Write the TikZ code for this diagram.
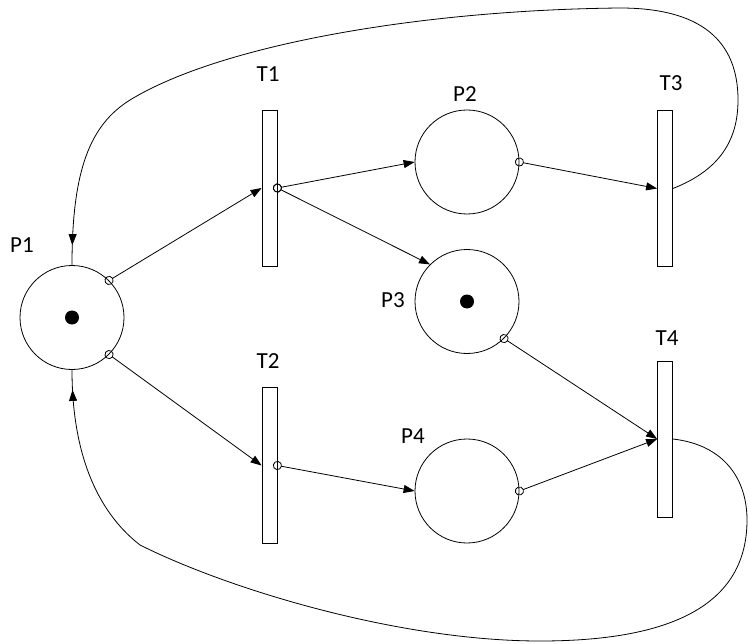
\documentclass[tikz,border=0pt]{standalone}
\usepackage{fontspec}
\setmainfont{Carlito}
\usetikzlibrary{arrows.meta, positioning, calc, decorations.markings}

\begin{document}
\begin{tikzpicture}[x=1pt, y=-1pt, line width=0.8pt,
    place/.style={circle, draw, minimum size=104pt, inner sep=0pt},
    trans/.style={rectangle, draw, minimum width=15pt, minimum height=156pt, inner sep=0pt},
    lab/.style={font=\fontsize{23}{26}\selectfont, inner sep=0pt},
    token/.style={circle, fill, minimum size=14pt, inner sep=0pt},
    arc/.style={{Circle[open, length=9pt, width=9pt]}-{Triangle[length=11pt, width=8pt]}, shorten <=-4.5pt},
    loopback/.style={postaction={decorate}, decoration={markings,
        mark=at position -20pt with {\arrow{Triangle[length=11pt, width=8pt]}}}}
]
\useasboundingbox (0,0) rectangle (749,644);

% Places
\node[place] (P1) at (72,317.5) {};
\node[place] (P2) at (467,162) {};
\node[place] (P3) at (467,301.5) {};
\node[place] (P4) at (467,491) {};

% Tokens
\node[token] (tok1) at (P1) {};
\node[token] (tok3) at (P3) {};

% Transitions
\node[trans] (T1) at (269.5,188) {};
\node[trans] (T2) at (269.5,465.5) {};
\node[trans] (T3) at (665,188.5) {};
\node[trans] (T4) at (665,439) {};

% Labels
\node[lab] (lP1) at (22,245) {P1};
\node[lab] (lP2) at (465,94) {P2};
\node[lab] (lP3) at (393,300) {P3};
\node[lab] (lP4) at (413,436) {P4};
\node[lab] (lT1) at (268,74) {T1};
\node[lab] (lT2) at (268,361) {T2};
\node[lab] (lT3) at (671,83) {T3};
\node[lab] (lT4) at (667,338) {T4};

% Arcs
\draw[arc] (P1.45) -- (T1.west);
\draw[arc] (P1.-45) -- (T2.west);
\draw[arc] (T1.east) -- (P2.west);
\draw[arc] (T1.east) -- (P3.135);
\draw[arc] (T2.east) -- (P4.west);
\draw[arc] (P2.east) -- (T3.west);
\draw[arc] (P3.-45) -- (T4.west);
\draw[arc] (P4.east) -- (T4.west);

% Loops back to P1
\draw[loopback] (T3.east) .. controls (720,170) and (738,140) .. (738,100)
    .. controls (738,40) and (700,8) .. (620,8)
    .. controls (420,10) and (220,45) .. (130,100)
    .. controls (90,125) and (72,170) .. (P1.north);
\draw[loopback] (T4.east) .. controls (725,445) and (747,480) .. (747,520)
    .. controls (747,600) and (680,641) .. (540,641)
    .. controls (400,641) and (230,590) .. (140,545)
    .. controls (95,510) and (72,450) .. (P1.south);
\end{tikzpicture}
\end{document}
